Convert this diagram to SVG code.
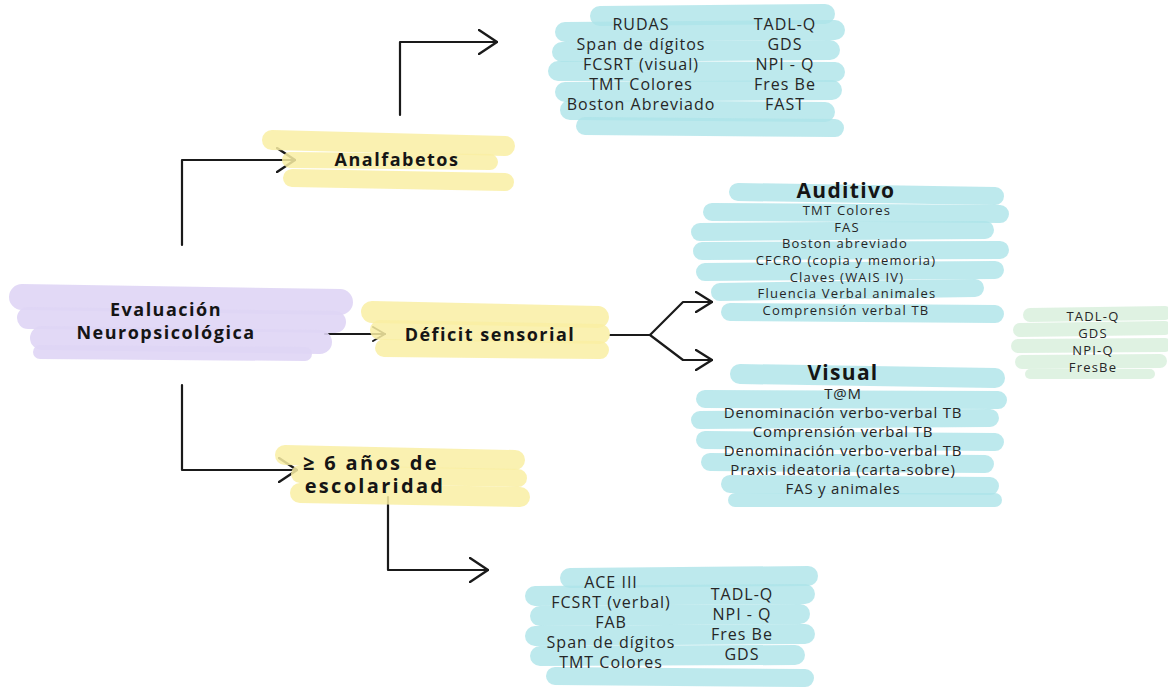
<svg xmlns="http://www.w3.org/2000/svg" width="1168" height="693" viewBox="0 0 1168 693">
<defs>
<marker id="ah" viewBox="0 0 20 26" refX="19" refY="13" markerWidth="20" markerHeight="26" markerUnits="userSpaceOnUse" orient="auto">
<path d="M1,1 L19,13 L1,25" fill="none" stroke="#1a1a1a" stroke-width="2.4" stroke-linecap="round" stroke-linejoin="round"/>
</marker>
<marker id="ahs" viewBox="0 0 14 16" refX="13" refY="8" markerWidth="14" markerHeight="16" markerUnits="userSpaceOnUse" orient="auto">
<path d="M1,1 L13,8 L1,15" fill="none" stroke="#1a1a1a" stroke-width="2" stroke-linecap="round" stroke-linejoin="round"/>
</marker>
<marker id="ahm" viewBox="0 0 18 22" refX="17" refY="11" markerWidth="18" markerHeight="22" markerUnits="userSpaceOnUse" orient="auto">
<path d="M1,1 L17,11 L1,21" fill="none" stroke="#1a1a1a" stroke-width="2.4" stroke-linecap="round" stroke-linejoin="round"/>
</marker>
</defs>
<style>
.b{fill:none;stroke:#ade4e8;stroke-linecap:round;opacity:0.8}
.y{fill:none;stroke:#f9eea3;stroke-linecap:round;opacity:0.85}
.p{fill:none;stroke:#dfd5f5;stroke-linecap:round;opacity:0.9}
.g{fill:none;stroke:#dcf1df;stroke-linecap:round;opacity:0.9}
.c{fill:none;stroke:#1a1a1a;stroke-width:2.2;stroke-linecap:round;stroke-linejoin:round}
text{font-family:"Open Sans","Noto Sans","Liberation Sans",sans-serif;text-anchor:middle;fill:#262626}
.t{font-weight:700;font-size:18px;letter-spacing:1.5px;fill:#151515}
.e{font-weight:700;font-size:20px;letter-spacing:2.3px;fill:#151515}
.h{font-weight:700;font-size:21px;letter-spacing:1.3px;fill:#151515}
.i{font-size:16px;letter-spacing:1px}
.s{font-size:13px;letter-spacing:1.2px}
.v{font-size:15px;letter-spacing:0.8px}
.q{font-size:13px;letter-spacing:1.2px}
</style>
<rect width="1168" height="693" fill="#ffffff"/>

<g id="connectors">
<path class="c" d="M182,245 L182,160 L295,160" marker-end="url(#ah)"/>
<path class="c" d="M400,115 L400,42 L497,42" marker-end="url(#ah)"/>
<path class="c" d="M325,334 L385,334" marker-end="url(#ahs)"/>
<path class="c" d="M610,335 L650,335 L683,302 L712,302" marker-end="url(#ahm)"/>
<path class="c" d="M650,335 L683,360 L712,360" marker-end="url(#ahm)"/>
<path class="c" d="M182,385 L182,470 L297,470" marker-end="url(#ah)"/>
<path class="c" d="M388,497 L388,570 L488,570" marker-end="url(#ah)"/>
</g>

<g id="node-evaluacion">
<path class="p" stroke-width="26" d="M22,297 L340,302"/>
<path class="p" stroke-width="22" d="M28,318 L335,322"/>
<path class="p" stroke-width="24" d="M42,338 L320,342"/>
<path class="p" stroke-width="14" d="M40,352 L305,354"/>
<text class="t" x="166" y="316">Evaluación</text>
<text class="t" x="166" y="339">Neuropsicológica</text>
</g>

<g id="node-deficit">
<path class="y" stroke-width="22" d="M372,312 L598,317"/>
<path class="y" stroke-width="20" d="M380,330 L600,334"/>
<path class="y" stroke-width="18" d="M384,348 L600,350"/>
<text class="t" x="490" y="341">Déficit sensorial</text>
</g>

<g id="node-analfabetos">
<path class="y" stroke-width="20" d="M272,140 L505,146"/>
<path class="y" stroke-width="16" d="M290,160 L490,162"/>
<path class="y" stroke-width="18" d="M292,178 L505,182"/>
<text class="t" x="397" y="166">Analfabetos</text>
</g>

<g id="node-escolaridad">
<path class="y" stroke-width="20" d="M285,455 L515,460"/>
<path class="y" stroke-width="18" d="M300,474 L518,478"/>
<path class="y" stroke-width="20" d="M300,493 L520,497"/>
<text class="e" x="371" y="470">≥ 6 años de</text>
<text class="e" x="375" y="493">escolaridad</text>
</g>

<g id="node-analfabetos-tests">
<path class="b" stroke-width="20" d="M600,16 L825,14"/>
<path class="b" stroke-width="20" d="M565,32 L835,30"/>
<path class="b" stroke-width="20" d="M562,52 L830,50"/>
<path class="b" stroke-width="20" d="M558,71 L835,72"/>
<path class="b" stroke-width="20" d="M565,92 L832,90"/>
<path class="b" stroke-width="20" d="M570,110 L825,112"/>
<path class="b" stroke-width="18" d="M585,126 L835,128"/>
<text class="i" x="641" y="30">RUDAS</text>
<text class="i" x="641" y="50">Span de dígitos</text>
<text class="i" x="641" y="70">FCSRT (visual)</text>
<text class="i" x="641" y="90">TMT Colores</text>
<text class="i" x="641" y="110">Boston Abreviado</text>
<text class="i" x="785" y="30">TADL-Q</text>
<text class="i" x="785" y="50">GDS</text>
<text class="i" x="785" y="70">NPI - Q</text>
<text class="i" x="785" y="90">Fres Be</text>
<text class="i" x="785" y="110">FAST</text>
</g>

<g id="node-auditivo">
<path class="b" stroke-width="18" d="M738,192 L995,196"/>
<path class="b" stroke-width="18" d="M712,212 L1000,214"/>
<path class="b" stroke-width="18" d="M700,232 L985,230"/>
<path class="b" stroke-width="18" d="M702,251 L1000,250"/>
<path class="b" stroke-width="18" d="M705,272 L995,270"/>
<path class="b" stroke-width="18" d="M720,292 L975,288"/>
<path class="b" stroke-width="18" d="M730,312 L995,314"/>
<text class="h" x="846" y="198">Auditivo</text>
<text class="s" x="847" y="215">TMT Colores</text>
<text class="s" x="847" y="232">FAS</text>
<text class="s" x="845" y="248">Boston abreviado</text>
<text class="s" x="846" y="265">CFCRO (copia y memoria)</text>
<text class="s" x="847" y="282">Claves (WAIS IV)</text>
<text class="s" x="847" y="298">Fluencia Verbal animales</text>
<text class="s" x="846" y="315">Comprensión verbal TB</text>
</g>

<g id="node-visual">
<path class="b" stroke-width="20" d="M740,374 L995,378"/>
<path class="b" stroke-width="18" d="M705,399 L998,400"/>
<path class="b" stroke-width="18" d="M700,420 L990,418"/>
<path class="b" stroke-width="18" d="M705,440 L995,442"/>
<path class="b" stroke-width="18" d="M710,462 L985,464"/>
<path class="b" stroke-width="18" d="M730,484 L990,486"/>
<path class="b" stroke-width="14" d="M735,500 L995,500"/>
<text class="h" x="843" y="380">Visual</text>
<text class="v" x="843" y="399">T@M</text>
<text class="v" x="843" y="418">Denominación verbo-verbal TB</text>
<text class="v" x="843" y="437">Comprensión verbal TB</text>
<text class="v" x="843" y="456">Denominación verbo-verbal TB</text>
<text class="v" x="843" y="475">Praxis ideatoria (carta-sobre)</text>
<text class="v" x="843" y="494">FAS y animales</text>
</g>

<g id="node-cuestionarios">
<path class="g" stroke-width="14" d="M1030,315 L1165,313"/>
<path class="g" stroke-width="14" d="M1020,330 L1165,328"/>
<path class="g" stroke-width="14" d="M1018,346 L1165,345"/>
<path class="g" stroke-width="14" d="M1022,362 L1160,361"/>
<path class="g" stroke-width="10" d="M1030,374 L1150,374"/>
<text class="q" x="1093" y="321">TADL-Q</text>
<text class="q" x="1093" y="338">GDS</text>
<text class="q" x="1093" y="355">NPI-Q</text>
<text class="q" x="1093" y="372">FresBe</text>
</g>

<g id="node-escolaridad-tests">
<path class="b" stroke-width="20" d="M570,578 L808,576"/>
<path class="b" stroke-width="20" d="M535,596 L805,594"/>
<path class="b" stroke-width="20" d="M540,616 L800,614"/>
<path class="b" stroke-width="20" d="M535,636 L805,634"/>
<path class="b" stroke-width="20" d="M540,656 L795,655"/>
<path class="b" stroke-width="18" d="M555,676 L805,678"/>
<text class="i" x="611" y="588">ACE III</text>
<text class="i" x="611" y="608">FCSRT (verbal)</text>
<text class="i" x="611" y="628">FAB</text>
<text class="i" x="611" y="648">Span de dígitos</text>
<text class="i" x="611" y="668">TMT Colores</text>
<text class="i" x="742" y="600">TADL-Q</text>
<text class="i" x="742" y="620">NPI - Q</text>
<text class="i" x="742" y="640">Fres Be</text>
<text class="i" x="742" y="660">GDS</text>
</g>
</svg>
